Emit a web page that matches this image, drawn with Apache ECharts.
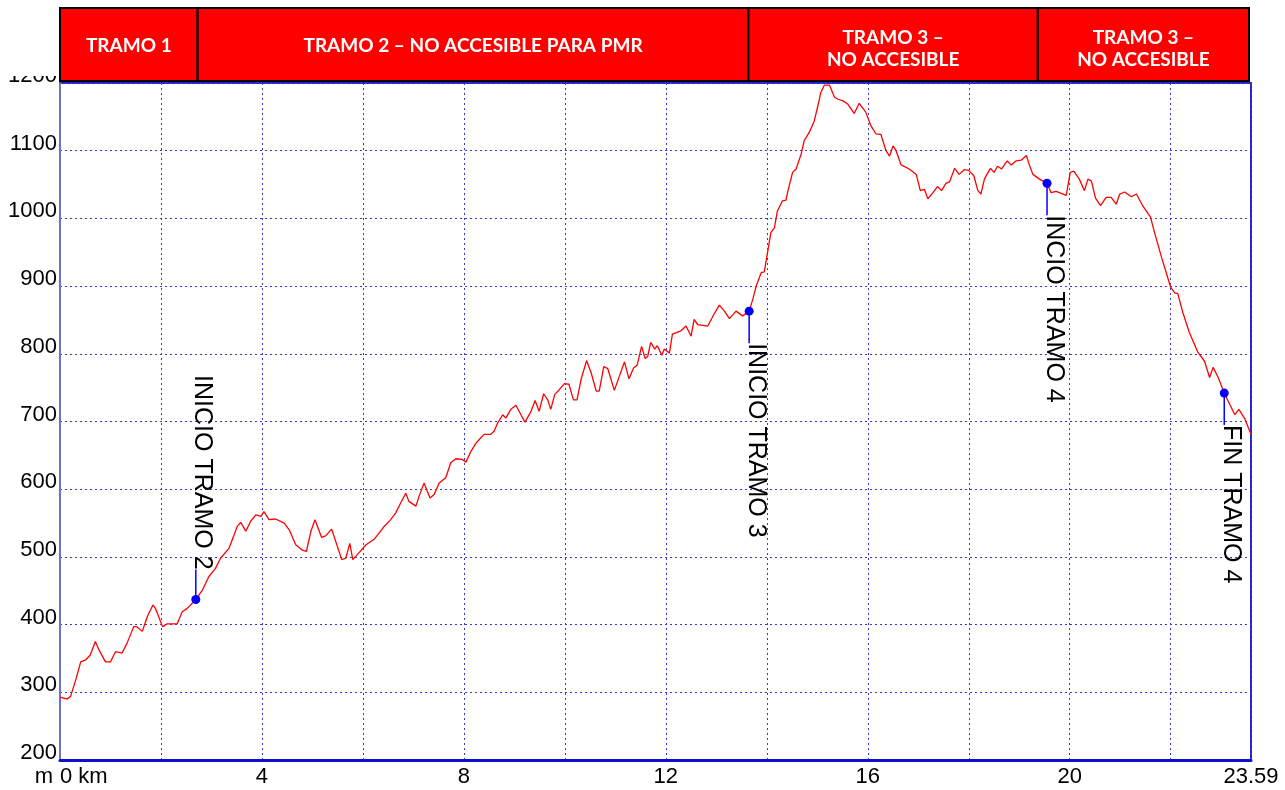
<!DOCTYPE html>
<html><head><meta charset="utf-8">
<script src="https://cdn.jsdelivr.net/npm/echarts@6/dist/echarts.min.js"></script>
<style>html,body{margin:0;padding:0;background:#fff}#c{width:1285px;height:790px}</style>
</head><body><div id="c"></div>
<script>
// ---- data ----
const distKm = [0.00,0.14,0.21,0.31,0.41,0.51,0.60,0.70,0.77,0.90,1.00,1.10,1.23,1.33,1.46,1.52,1.63,1.73,1.84,1.89,2.03,2.12,2.32,2.42,2.52,2.69,2.82,2.95,3.08,3.18,3.35,3.41,3.51,3.58,3.68,3.78,3.88,3.98,4.04,4.14,4.27,4.44,4.54,4.67,4.80,4.88,4.97,5.05,5.18,5.26,5.38,5.46,5.58,5.66,5.74,5.80,5.92,6.06,
6.22,6.32,6.42,6.55,6.65,6.75,6.85,6.91,7.05,7.11,7.21,7.33,7.41,7.51,7.64,7.74,7.84,7.97,8.04,8.14,8.24,8.30,8.40,8.53,8.60,8.67,8.77,8.83,8.93,9.03,9.13,9.21,9.33,9.41,9.49,9.58,9.66,9.72,9.80,9.89,9.99,10.08,10.17,10.24,10.32,10.43,10.52,10.62,10.68,10.77,10.85,10.98,11.08,11.18,11.27,11.36,11.43,11.52,11.59,11.64,11.70,11.78,11.83,11.92,11.97,12.07,12.13,
12.30,12.40,12.50,12.56,12.63,12.83,12.95,13.06,13.16,13.26,13.39,13.52,13.65,13.72,13.79,13.89,13.95,14.02,14.08,14.15,14.21,14.31,14.38,14.41,14.51,14.58,14.68,14.74,14.84,14.94,15.01,15.07,15.14,15.24,15.34,15.41,15.50,15.60,15.73,15.83,15.96,16.06,16.16,16.26,16.36,16.43,16.50,16.56,16.66,16.82,16.96,17.04,17.12,17.19,17.29,17.38,17.46,17.55,17.62,17.72,17.81,17.91,18.00,18.10,18.18,18.24,18.31,18.36,18.43,18.50,18.57,18.65,18.76,18.84,18.94,19.04,19.14,19.20,19.27,19.40,19.55,19.63,19.73,19.93,20.01,20.08,20.19,20.29,20.36,20.43,20.51,20.61,20.72,20.82,20.92,20.99,21.09,21.22,21.32,21.45,21.60,21.68,21.82,21.91,22.00,22.08,22.14,22.24,22.37,22.54,22.67,22.77,22.84,22.94,23.06,23.17,23.27,23.35,23.46,23.59];
const elevM = [293,290,294,318,345,348,355,375,363,345,345,360,358,373,397,397,390,412,429,424,397,401,401,419,424,437,451,471,483,498,513,525,545,551,538,553,562,560,567,555,556,550,540,518,510,508,538,555,529,531,541,523,496,498,520,496,506,518,
526,535,545,555,565,580,594,582,575,589,609,587,592,609,617,639,645,644,640,656,668,673,681,681,686,698,710,705,718,724,710,699,715,731,715,741,732,718,740,747,756,755,732,732,762,790,772,745,745,781,778,746,767,788,763,779,783,811,793,796,817,807,812,798,807,801,829,
834,841,826,851,843,841,858,872,863,852,863,856,863,880,900,920,921,952,979,986,1011,1026,1027,1038,1068,1073,1095,1115,1127,1144,1166,1186,1197,1197,1179,1176,1174,1169,1155,1170,1157,1137,1125,1124,1100,1092,1107,1100,1079,1073,1065,1041,1043,1029,1038,1047,1041,1052,1054,1074,1065,1072,1071,1063,1041,1036,1058,1065,1074,1068,1077,1073,1085,1079,1085,1086,1093,1079,1065,1058,1052,1038,1040,1034,1068,1070,1058,1041,1058,1055,1030,1019,1031,1031,1021,1036,1039,1032,1036,1018,1002,979,942,920,898,890,889,861,831,802,789,765,780,765,742,725,710,718,705,681];
const markerKm = [2.69, 13.65, 19.55, 23.06];
const markerElev = [437, 863, 1052, 742];
const markerText = ['INICIO TRAMO 2', 'INICIO TRAMO 3', 'INCIO TRAMO 4', 'FIN TRAMO 4'];
const sectionStart = [0, 2.73, 13.66, 19.40];
const sectionEnd = [2.73, 13.66, 19.40, 23.59];
const sectionText = ['TRAMO 1', 'TRAMO 2 \u2013 NO ACCESIBLE PARA PMR', 'TRAMO 3 \u2013\nNO ACCESIBLE', 'TRAMO 3 \u2013\nNO ACCESIBLE'];
const xMin = 0, xMax = 23.59, xStep = 2, xLabelStep = 4;
const yMin = 200, yMax = 1200, yStep = 100;
const xFirstLabel = '0 km', yUnit = 'm';

// ---- chart ----
const chart = echarts.init(document.getElementById('c'), null, {renderer: 'canvas'});
const lineData = distKm.map((d, i) => [d, elevM[i]]);
const markerData = markerKm.map((d, i) => [d, markerElev[i], i]);
const sectionData = sectionStart.map((s, i) => [s, sectionEnd[i], i]);
const FONT = '"Liberation Sans", Arial, sans-serif';
const gridColor = '#3a3ad2';

chart.setOption({
  animation: false,
  backgroundColor: '#ffffff',
  grid: [
    {left: 60, right: 34, top: 83, bottom: 30, show: true, borderColor: '#2424d4', borderWidth: 2, backgroundColor: 'transparent'},
    {left: 60, right: 36, top: 8, height: 73, show: false}
  ],
  graphic: [
    {type: 'rect', left: 0, top: 0, shape: {width: 59, height: 76}, style: {fill: '#ffffff'}, z: 100}
  ],
  xAxis: [
    {type: 'value', gridIndex: 0, min: xMin, max: xMax, interval: xStep,
     axisLine: {show: true, onZero: false, lineStyle: {color: '#1010cc', width: 3}},
     axisTick: {show: false},
     splitLine: {show: true, lineStyle: {color: gridColor, width: 1, type: [2, 3]}},
     axisLabel: {show: true, margin: 6, color: '#000', fontSize: 22, fontFamily: FONT,
       showMinLabel: true, showMaxLabel: true, hideOverlap: false, alignMinLabel: 'left', alignMaxLabel: 'center',
       formatter: v => v === xMin ? xFirstLabel : (Math.abs(v - xMax) < 1e-6 ? String(xMax) : (Math.abs(v % xLabelStep) < 1e-6 ? String(v) : ''))}
    },
    {type: 'value', gridIndex: 1, min: xMin, max: xMax, show: false}
  ],
  yAxis: [
    {type: 'value', gridIndex: 0, min: yMin, max: yMax, interval: yStep,
     name: yUnit, nameLocation: 'start', nameGap: 6,
     nameTextStyle: {color: '#000', fontSize: 22, fontFamily: FONT, align: 'right', verticalAlign: 'top', padding: [0, 7, 0, 0]},
     axisLine: {show: true, lineStyle: {color: '#7272c4', width: 2}},
     axisTick: {show: false},
     splitLine: {show: true, lineStyle: {color: gridColor, width: 1, type: [2, 3]}},
     axisLabel: {margin: 3, color: '#000', fontSize: 22, fontFamily: FONT, verticalAlign: 'bottom', lineHeight: 14,
       showMaxLabel: true, formatter: v => String(v)}
    },
    {type: 'value', gridIndex: 1, min: 0, max: 1, show: false}
  ],
  series: [
    {type: 'line', xAxisIndex: 0, yAxisIndex: 0, data: lineData, symbol: 'none', smooth: false,
     lineStyle: {color: '#ff0000', width: 1.3}, z: 3},
    {type: 'custom', xAxisIndex: 0, yAxisIndex: 0, data: markerData, z: 5, clip: false,
     renderItem: (params, api) => {
       const p = api.coord([api.value(0), api.value(1)]);
       const idx = api.value(2);
       const up = idx === 0;
       const stemLen = up ? 30 : 32;
       const ey = up ? p[1] - stemLen : p[1] + stemLen;
       return {type: 'group', children: [
         {type: 'line', shape: {x1: p[0], y1: p[1], x2: p[0], y2: ey}, style: {stroke: '#0000ff', lineWidth: 1.5}},
         {type: 'circle', shape: {cx: p[0], cy: p[1], r: 4.5}, style: {fill: '#0000ff'}},
         {type: 'text', x: p[0] - 6, y: ey, rotation: -Math.PI / 2,
          style: {text: markerText[idx], fill: '#000', fontSize: 25, fontFamily: FONT,
                  align: up ? 'right' : 'left', verticalAlign: 'bottom', lineHeight: 25}}
       ]};
     }},
    {type: 'custom', xAxisIndex: 1, yAxisIndex: 1, data: sectionData, z: 10, clip: false,
     renderItem: (params, api) => {
       const a = api.coord([api.value(0), 1]);
       const b = api.coord([api.value(1), 0]);
       const idx = api.value(2);
       const twoLine = sectionText[idx].indexOf('\n') >= 0;
       return {type: 'group', children: [
         {type: 'rect', shape: {x: a[0], y: a[1], width: b[0] - a[0], height: b[1] - a[1]},
          style: {fill: '#ff0000', stroke: '#000', lineWidth: 2}},
         {type: 'text', x: (a[0] + b[0]) / 2, y: (a[1] + b[1]) / 2 + (twoLine ? 4 : 1),
          style: {text: sectionText[idx], fill: '#fff', fontSize: 19, fontWeight: 'bold', fontFamily: 'Lato, "Open Sans", sans-serif',
                  align: 'center', verticalAlign: 'middle', lineHeight: 22}}
       ]};
     }}
  ]
});
</script>
</body></html>
